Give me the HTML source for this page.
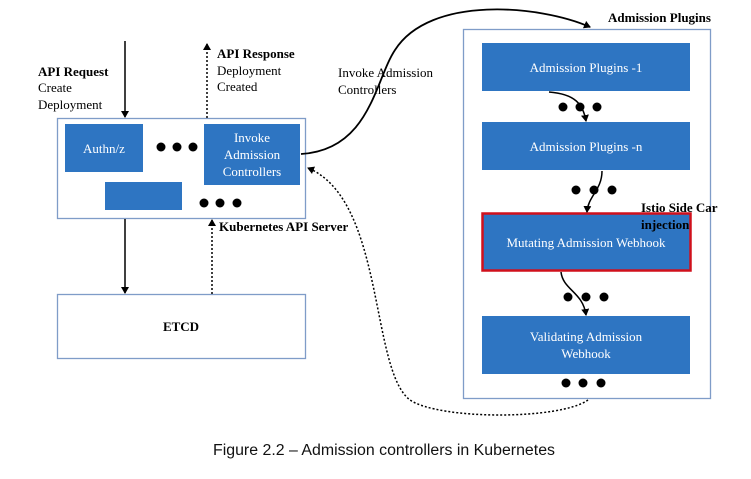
<!DOCTYPE html>
<html><head><style>
body{margin:0;background:#fff;}
svg text{font-family:"Liberation Serif",serif;}
</style></head><body>
<svg width="751" height="474" viewBox="0 0 751 474" xmlns="http://www.w3.org/2000/svg">
<defs>
<marker id="a" markerWidth="8" markerHeight="8" refX="6" refY="4" orient="auto" markerUnits="userSpaceOnUse"><path d="M0,0 L7,4 L0,8 z" fill="#000"/></marker>
</defs>
<rect x="57.5" y="118.5" width="248" height="100" fill="#fff" stroke="#7f9cc8" stroke-width="1.3"/>
<rect x="65" y="124" width="78" height="48" fill="#2e75c2"/>
<text x="104" y="153" fill="#fff" font-size="13" text-anchor="middle">Authn/z</text>
<rect x="204" y="124" width="96" height="61" fill="#2e75c2"/>
<text fill="#fff" font-size="13" text-anchor="middle"><tspan x="252" y="142">Invoke</tspan><tspan x="252" y="159">Admission</tspan><tspan x="252" y="176">Controllers</tspan></text>
<rect x="105" y="182" width="77" height="28" fill="#2e75c2"/>
<g fill="#000"><circle cx="161" cy="147" r="4.5"/><circle cx="177" cy="147" r="4.5"/><circle cx="193" cy="147" r="4.5"/>
<circle cx="204" cy="203" r="4.5"/><circle cx="220" cy="203" r="4.5"/><circle cx="237" cy="203" r="4.5"/></g>
<rect x="57.5" y="294.5" width="248" height="64" fill="#fff" stroke="#7f9cc8" stroke-width="1.3"/>
<text x="181" y="331" font-size="13" font-weight="bold" text-anchor="middle">ETCD</text>
<line x1="125" y1="41" x2="125" y2="117" stroke="#000" stroke-width="1.5" marker-end="url(#a)"/>
<line x1="125" y1="219" x2="125" y2="293" stroke="#000" stroke-width="1.5" marker-end="url(#a)"/>
<line x1="207" y1="118" x2="207" y2="44" stroke="#000" stroke-width="1.5" stroke-dasharray="2,2" marker-end="url(#a)"/>
<line x1="212" y1="294" x2="212" y2="220" stroke="#000" stroke-width="1.5" stroke-dasharray="2,2" marker-end="url(#a)"/>
<text font-size="13"><tspan x="38" y="76" font-weight="bold">API Request</tspan><tspan x="38" y="92">Create</tspan><tspan x="38" y="109">Deployment</tspan></text>
<text font-size="13"><tspan x="217" y="58" font-weight="bold">API Response</tspan><tspan x="217" y="75">Deployment</tspan><tspan x="217" y="91">Created</tspan></text>
<text x="219" y="231" font-size="13" font-weight="bold">Kubernetes API Server</text>
<text font-size="13"><tspan x="338" y="77">Invoke Admission</tspan><tspan x="338" y="94">Controllers</tspan></text>
<path d="M301,154 C370,150 375,80 395,50 C430,-5 540,5 590,27" fill="none" stroke="#000" stroke-width="1.8" marker-end="url(#a)"/>
<path d="M588,400 C560,420 440,420 410,400 C370,370 385,200 308,168" fill="none" stroke="#000" stroke-width="1.5" stroke-dasharray="2,2" marker-end="url(#a)"/>
<rect x="463.5" y="29.5" width="247" height="369" fill="none" stroke="#7f9cc8" stroke-width="1.3"/>
<text x="608" y="22" font-size="13" font-weight="bold">Admission Plugins</text>
<rect x="482" y="43" width="208" height="48" fill="#2e75c2"/>
<text x="586" y="72" fill="#fff" font-size="13" text-anchor="middle">Admission Plugins -1</text>
<rect x="482" y="122" width="208" height="48" fill="#2e75c2"/>
<text x="586" y="151" fill="#fff" font-size="13" text-anchor="middle">Admission Plugins -n</text>
<rect x="482.5" y="213.5" width="208" height="57" fill="#2e75c2" stroke="#d0101c" stroke-width="2.5"/>
<text x="586" y="247" fill="#fff" font-size="13" text-anchor="middle">Mutating Admission Webhook</text>
<rect x="482" y="316" width="208" height="58" fill="#2e75c2"/>
<text fill="#fff" font-size="13" text-anchor="middle"><tspan x="586" y="341">Validating Admission</tspan><tspan x="586" y="358">Webhook</tspan></text>
<text font-size="13" font-weight="bold"><tspan x="641" y="212">Istio Side Car</tspan><tspan x="641" y="229">injection</tspan></text>
<g fill="#000"><circle cx="563" cy="107" r="4.5"/><circle cx="580" cy="107" r="4.5"/><circle cx="597" cy="107" r="4.5"/>
<circle cx="576" cy="190" r="4.5"/><circle cx="594" cy="190" r="4.5"/><circle cx="612" cy="190" r="4.5"/>
<circle cx="568" cy="297" r="4.5"/><circle cx="586" cy="297" r="4.5"/><circle cx="604" cy="297" r="4.5"/>
<circle cx="566" cy="383" r="4.5"/><circle cx="583" cy="383" r="4.5"/><circle cx="601" cy="383" r="4.5"/></g>
<path d="M549,92 C575,94 583,104 586,121" fill="none" stroke="#000" stroke-width="1.5" marker-end="url(#a)"/>
<path d="M602,171 C602,190 588,196 587,212" fill="none" stroke="#000" stroke-width="1.5" marker-end="url(#a)"/>
<path d="M561,272 C563,290 583,292 586,315" fill="none" stroke="#000" stroke-width="1.5" marker-end="url(#a)"/>
<text x="384" y="455" font-size="15.5" fill="#111" text-anchor="middle" style="font-family:'Liberation Sans',sans-serif" textLength="342" lengthAdjust="spacingAndGlyphs">Figure 2.2 – Admission controllers in Kubernetes</text>
</svg>
</body></html>
